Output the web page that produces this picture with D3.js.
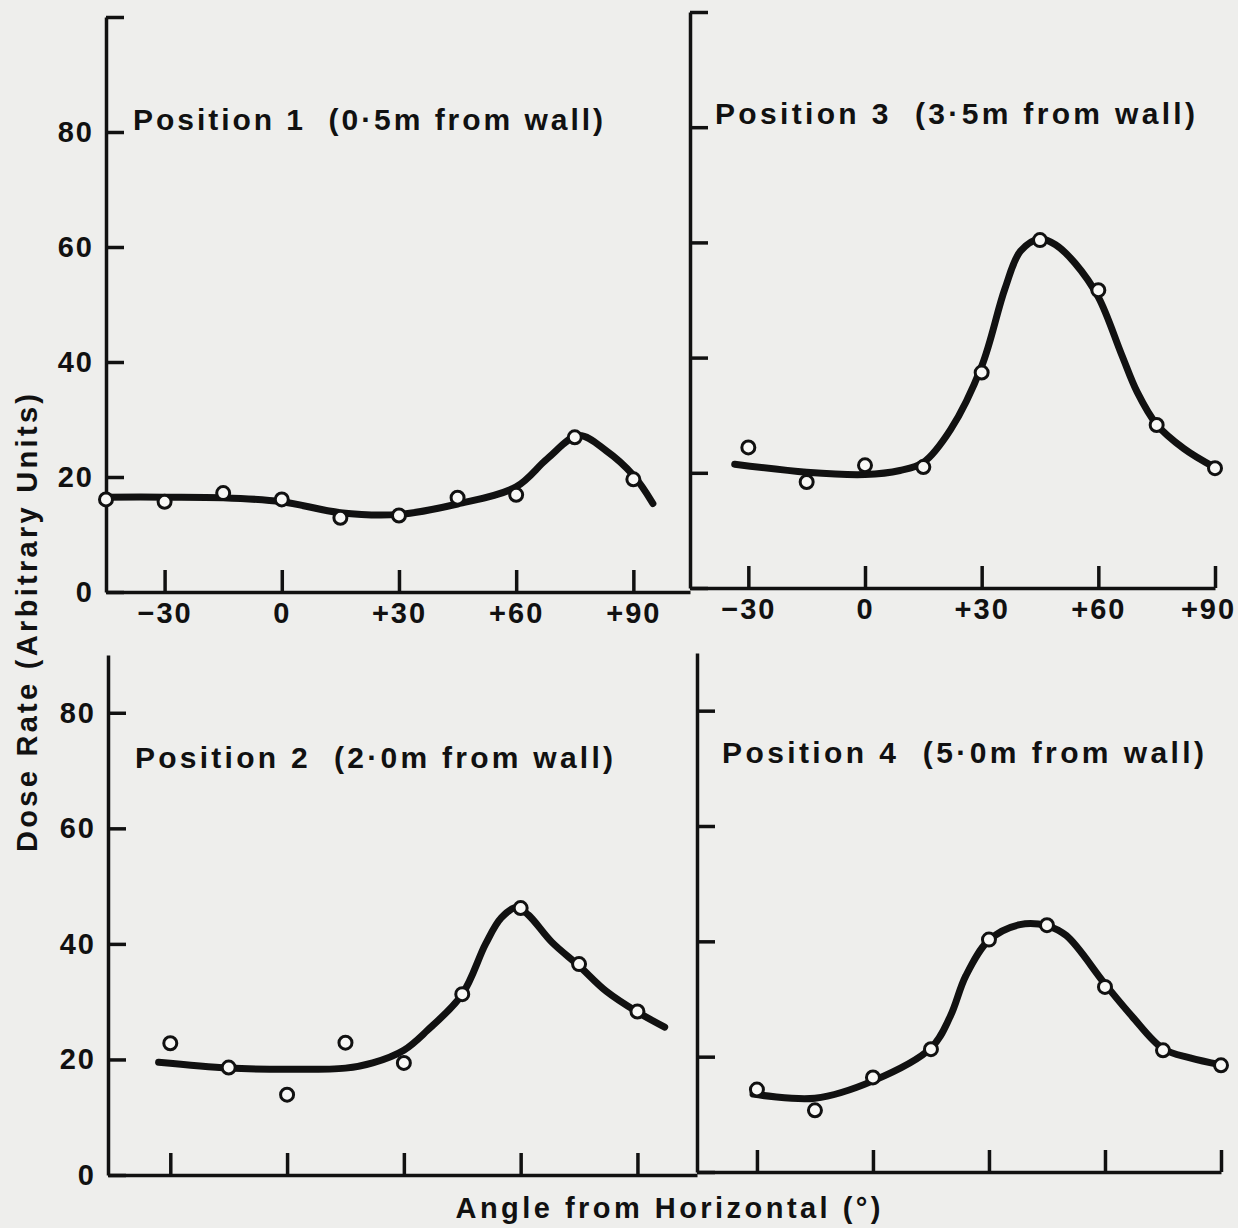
<html>
<head>
    <title>Dose rate vs angle</title>
    <style>
        body { margin: 0; background: #eeeeec; }
        text { font-family: "Liberation Sans", Arial, Helvetica, sans-serif; font-weight: bold; fill: #111; }
        g.axis path, g.axis line { stroke: #111; stroke-width: 3.5; }
        g.axis text { font-size: 29px; letter-spacing: 2px; }
        path.fit { fill: none; stroke: #111; stroke-width: 7; stroke-linecap: round; stroke-linejoin: round; }
        circle.obs { fill: #f8f8f6; stroke: #111; stroke-width: 3; }
        text.title { font-size: 30px; white-space: pre; }
        text.label { font-size: 29px; }
    </style>
</head>
<body>
<div id="target"></div>

<script src="https://cdnjs.cloudflare.com/ajax/libs/d3/7.8.5/d3.min.js"></script>
<script>
    // measured points (angle in degrees, dose rate in arbitrary units)
    var angles = [-30, -15, 0, 15, 30, 45, 60, 75, 90];
    var pos1Angles = [-45, -30, -15, 0, 15, 30, 45, 60, 75, 90];
    var pos1Dose = [16.1, 15.7, 17.2, 16.1, 12.9, 13.3, 16.4, 16.9, 26.9, 19.6];
    var pos2Dose = [22.8, 18.6, 13.9, 22.9, 19.4, 31.3, 46.2, 36.5, 28.3];
    var pos3Dose = [24.4, 18.4, 21.3, 21.0, 37.4, 60.4, 51.7, 28.3, 20.8];
    var pos4Dose = [14.3, 10.7, 16.4, 21.3, 40.3, 42.8, 32.1, 21.1, 18.5];

    var pos1FitAngles = [-45, -30, -15, 0, 15, 30, 45, 60, 68, 76, 83, 90, 95];
    var pos1Fit = [16.5, 16.5, 16.4, 15.7, 13.8, 13.5, 15.3, 18.3, 23.2, 27.2, 24.6, 20.3, 15.4];
    var pos2FitAngles = [-33, -15, 0, 15, 22, 30, 36, 45, 51, 55, 59, 62, 68, 75, 82, 90, 97];
    var pos2Fit = [19.5, 18.5, 18.3, 18.5, 19.4, 21.6, 25, 31.3, 40, 44.5, 46.3, 45, 40.3, 36.2, 31.8, 28.2, 25.6];
    var pos3FitAngles = [-33.5, -15, 0, 9, 15, 22, 30, 36, 40, 45, 49, 54, 60, 66, 70, 75, 82, 90];
    var pos3Fit = [21.5, 20.1, 19.7, 20.4, 21.8, 27.5, 38.5, 52, 58.5, 60.6, 59.6, 56.4, 50.5, 40.5, 34, 28.4, 24.2, 20.9];
    var pos4FitAngles = [-31, -15, 0, 15, 20, 24, 30, 38, 45, 50, 60, 67, 75, 82, 90];
    var pos4Fit = [13.5, 12.8, 15.8, 21.5, 27, 34, 40.2, 42.9, 42.7, 41, 32.6, 27, 21.4, 19.8, 18.6];

    var xTickValues = [-30, 0, 30, 60, 90];
    var xTickLabels = ['\u221230', '0', '+30', '+60', '+90'];
    var yTickLabels = ['0', '20', '40', '60', '80', ''];

    var titles = [
        'Position 1  (0\u00b75m from wall)',
        'Position 2  (2\u00b70m from wall)',
        'Position 3  (3\u00b75m from wall)',
        'Position 4  (5\u00b70m from wall)'
    ];

    var width = 1238, height = 1228;

    var svg = d3.select('#target')
            .append('svg')
            .attr('width', width)
            .attr('height', height);

    svg.append('rect')
            .attr('width', width)
            .attr('height', height)
            .attr('fill', '#eeeeec');

    // panel layout: pixel boxes for each of the four small plots
    var panels = [
        {angles: pos1Angles, dose: pos1Dose, fitA: pos1FitAngles, fit: pos1Fit, title: titles[0],
            xDom: [-45, 104.5], xRange: [106, 690], yDom: [0, 100], yRange: [592, 17],
            yLabels: true, xLabels: true, tx: 133, ty: 130, tw: 470},
        {angles: angles, dose: pos3Dose, fitA: pos3FitAngles, fit: pos3Fit, title: titles[2],
            xDom: [-45, 90], xRange: [690, 1215], yDom: [0, 100], yRange: [588, 12],
            yLabels: false, xLabels: true, tx: 715, ty: 124, tw: 480, lastShift: -7},
        {angles: angles, dose: pos2Dose, fitA: pos2FitAngles, fit: pos2Fit, title: titles[1],
            xDom: [-46, 105.3], xRange: [108, 697], yDom: [0, 90], yRange: [1175, 655],
            yLabels: true, xLabels: false, tx: 135, ty: 768, tw: 478},
        {angles: angles, dose: pos4Dose, fitA: pos4FitAngles, fit: pos4Fit, title: titles[3],
            xDom: [-45.5, 90], xRange: [697, 1221], yDom: [0, 90], yRange: [1172, 653],
            yLabels: false, xLabels: false, tx: 722, ty: 763, tw: 482}
    ];

    panels.forEach(function (p) {
        var x = d3.scaleLinear().domain(p.xDom).range(p.xRange);
        var y = d3.scaleLinear().domain(p.yDom).range(p.yRange);
        var g = svg.append('g');

        var yTicks = p.yDom[1] >= 100 ? [0, 20, 40, 60, 80, 100] : [0, 20, 40, 60, 80];
        var yAxis = d3.axisLeft(y)
                .tickValues(yTicks)
                .tickSizeInner(-18)
                .tickSizeOuter(0)
                .tickPadding(12)
                .tickFormat(function (d, i) {
                    return p.yLabels ? yTickLabels[i] : '';
                });

        var xAxis = d3.axisBottom(x)
                .tickValues(xTickValues)
                .tickSizeInner(-22)
                .tickSizeOuter(0)
                .tickPadding(10)
                .tickFormat(function (d, i) {
                    return p.xLabels ? xTickLabels[i] : '';
                });

        var gx = g.append('g')
                .attr('class', 'axis')
                .attr('transform', 'translate(0,' + p.yRange[0] + ')')
                .call(xAxis);
        gx.selectAll('text')
                .attr('text-anchor', 'middle')
                .attr('dx', function (d, i) {
                    return (p.lastShift && i === xTickValues.length - 1) ? p.lastShift : 0;
                });

        g.append('g')
                .attr('class', 'axis')
                .attr('transform', 'translate(' + p.xRange[0] + ',0)')
                .call(yAxis);

        g.selectAll('.axis').attr('font-size', null).attr('font-family', null);

        var line = d3.line()
                .x(function (d) { return x(d[0]); })
                .y(function (d) { return y(d[1]); })
                .curve(d3.curveCatmullRom.alpha(0.5));

        g.append('path')
                .attr('class', 'fit')
                .attr('d', line(d3.zip(p.fitA, p.fit)));

        g.selectAll('circle.obs')
                .data(d3.zip(p.angles, p.dose))
                .enter()
                .append('circle')
                .attr('class', 'obs')
                .attr('cx', function (d) { return x(d[0]); })
                .attr('cy', function (d) { return y(d[1]); })
                .attr('r', 6.5);

        g.append('text')
                .attr('class', 'title')
                .attr('x', p.tx)
                .attr('y', p.ty)
                .attr('textLength', p.tw)
                .attr('lengthAdjust', 'spacing')
                .text(p.title);
    });

    svg.append('text')
            .attr('class', 'label')
            .attr('transform', 'translate(37,623) rotate(-90)')
            .attr('text-anchor', 'middle')
            .attr('textLength', 458)
            .attr('lengthAdjust', 'spacing')
            .text('Dose Rate (Arbitrary Units)');

    svg.append('text')
            .attr('class', 'label')
            .attr('x', 668)
            .attr('y', 1218)
            .attr('text-anchor', 'middle')
            .attr('textLength', 425)
            .attr('lengthAdjust', 'spacing')
            .text('Angle from Horizontal (\u00b0)');
</script>

</body>
</html>
